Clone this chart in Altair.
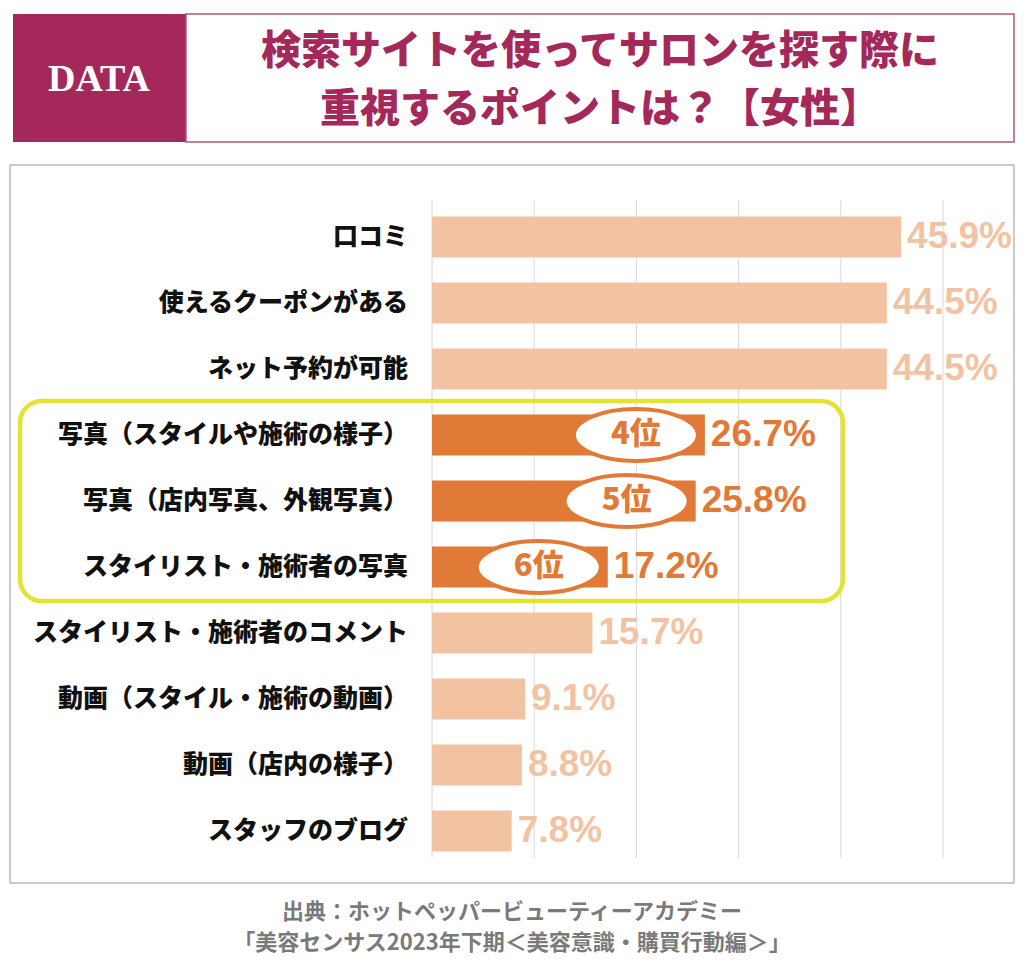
import altair as alt
import pandas as pd

# ---------------- data ----------------
categories = [
    "口コミ",
    "使えるクーポンがある",
    "ネット予約が可能",
    "写真（スタイルや施術の様子）",
    "写真（店内写真、外観写真）",
    "スタイリスト・施術者の写真",
    "スタイリスト・施術者のコメント",
    "動画（スタイル・施術の動画）",
    "動画（店内の様子）",
    "スタッフのブログ",
]
values = [45.9, 44.5, 44.5, 26.7, 25.8, 17.2, 15.7, 9.1, 8.8, 7.8]
highlight_ranks = [4, 5, 6]
grid_ticks = [0, 10, 20, 30, 40, 50]
header_label = ["DATA"]
title_lines = ["検索サイトを使ってサロンを探す際に", "重視するポイントは？【女性】"]
source_lines = ["出典：ホットペッパービューティーアカデミー",
                "「美容センサス2023年下期＜美容意識・購買行動編＞」"]

# ---------------- styling ----------------
W, H = 1008, 952
MAROON = "#A4285A"
PEACH = "#F2C3A3"
ORANGE = "#E07A36"
YELLOW = "#E3E335"
JP = "Noto Sans CJK JP"

df = pd.DataFrame({"item": categories, "value": values, "rank": list(range(1, len(values) + 1))})
df["group"] = ["hl" if r in highlight_ranks else "base" for r in df["rank"]]
df["label"] = [f"{v:.1f}%" for v in values]
df["rank_label"] = [f"{r}位" for r in df["rank"]]
hl = df[df["group"] == "hl"]

grid_df = pd.DataFrame({"tick": grid_ticks})
one = pd.DataFrame({"k": [0]})

xscale = alt.Scale(domain=[0, 50], range=[424, 935], nice=False)
yscale = alt.Scale(domain=categories, range=[196, 856], paddingInner=0.38, paddingOuter=0.19)
cscale = alt.Scale(domain=["base", "hl"], range=[PEACH, ORANGE])

X = lambda f: alt.X(f, type="quantitative", scale=xscale, axis=None)
Y = alt.Y("item:N", scale=yscale, axis=None)

def box(x1, x2, y1, y2, **kw):
    return alt.Chart(one).mark_rect(**kw).encode(
        x=alt.value(x1), x2=alt.value(x2), y=alt.value(y1), y2=alt.value(y2))

def label(txt, x, y, **kw):
    return alt.Chart(pd.DataFrame({"t": [txt]})).mark_text(**kw).encode(
        x=alt.value(x), y=alt.value(y), text="t:N")

panel = box(2, 1006, 157, 875, fill="white", stroke="#BBBBBB", strokeWidth=1.5)
data_box = box(5, 178, 6, 134, fill=MAROON)
title_box = box(178, 1006, 6, 134, fill="white", stroke="#B0577A", strokeWidth=1.5)

grid = alt.Chart(grid_df).mark_rule(color="#D8D8D8", strokeWidth=1).encode(
    x=X("tick"), y=alt.value(192), y2=alt.value(850))

bars = alt.Chart(df).mark_bar().encode(
    x=X("value"), y=Y,
    color=alt.Color("group:N", scale=cscale, legend=None))

frame = box(12, 835, 393, 593, fill=None, stroke=YELLOW, strokeWidth=4.5, cornerRadius=22)

cat_text = alt.Chart(df).mark_text(align="right", baseline="middle", font=JP,
                                   fontWeight=900, fontSize=25, color="#111111").encode(
    x=alt.value(400), y=Y, text="item:N")

val_text = alt.Chart(df).mark_text(align="left", baseline="middle", dx=6,
                                   font="Liberation Sans", fontWeight="bold", fontSize=37).encode(
    x=X("value"), y=Y, text="label:N",
    color=alt.Color("group:N", scale=cscale, legend=None))

ellipse_path = "M-1,0A1,0.42,0,1,1,1,0A1,0.42,0,1,1,-1,0Z"
ellipses = alt.Chart(hl).mark_point(shape=ellipse_path, size=124 * 124, filled=True,
                                    fill="white", fillOpacity=1, opacity=1,
                                    stroke=ORANGE, strokeWidth=4, xOffset=-69).encode(
    x=X("value"), y=Y)

rank_text = alt.Chart(hl).mark_text(align="center", baseline="middle", dx=-69,
                                    font=JP, fontWeight=900, fontSize=31, color=ORANGE).encode(
    x=X("value"), y=Y, text="rank_label:N")

data_text = label(header_label[0], 91, 72, font="Liberation Serif", fontWeight="bold",
                  fontSize=38, color="white", align="center", baseline="middle")
t1 = label(title_lines[0], 592, 44, font=JP, fontWeight=900, fontSize=40,
           color=MAROON, align="center", baseline="middle")
t2 = label(title_lines[1], 592, 102, font=JP, fontWeight=900, fontSize=40,
           color=MAROON, align="center", baseline="middle")
s1 = label(source_lines[0], 504, 904, font=JP, fontWeight="bold", fontSize=22,
           color="#7A7A7A", align="center", baseline="middle")
s2 = label(source_lines[1], 504, 935, font=JP, fontWeight="bold", fontSize=22,
           color="#7A7A7A", align="center", baseline="middle")

chart = alt.layer(
    panel, data_box, title_box, grid, bars, frame, cat_text, val_text,
    ellipses, rank_text, data_text, t1, t2, s1, s2
).properties(
    width=W, height=H, autosize=alt.AutoSizeParams(type="none"), padding=0,
    background="white"
).configure_view(stroke=None)

chart.save("out.html", embed_options={"renderer": "svg", "actions": False})
